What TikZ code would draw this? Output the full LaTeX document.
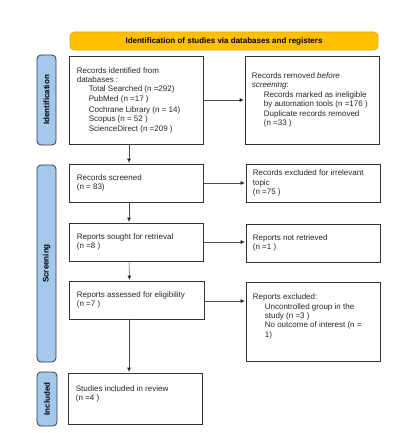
\documentclass[tikz,border=0pt]{standalone}
\usepackage{fontspec}
\setmainfont{Liberation Sans}
\usetikzlibrary{arrows.meta}
\definecolor{lblue}{HTML}{A4C8EC}
\definecolor{lblueb}{HTML}{2A3A50}
\definecolor{yel}{HTML}{FFC000}
\definecolor{yelb}{HTML}{E8A800}
\definecolor{txtc}{HTML}{262626}
\tikzset{
  box/.style={draw=black!80, line width=0.7pt, inner sep=0pt, fill=white},
  txt/.style={align=left, inner sep=0pt, text=txtc, font=\fontsize{8}{9.4}\selectfont},
  side/.style={draw=lblueb, fill=lblue, line width=0.8pt, rounded corners=4pt, inner sep=0pt},
  sidetxt/.style={rotate=90, font=\bfseries\fontsize{8}{9.4}\selectfont, text=black, inner sep=0pt},
  conn/.style={draw=black!70, line width=0.5pt, -{Triangle[length=4pt,width=3.5pt,fill=black]}, shorten >=1pt}
}
\newcommand{\ind}{\hspace*{12pt}}
\begin{document}
\begin{tikzpicture}[x=1pt,y=-1pt]
\useasboundingbox (0,0) rectangle (405,433);
\fill[white] (0,0) rectangle (405,433);
% banner
\node[draw=yelb, fill=yel, line width=0.6pt, rounded corners=4pt, minimum width=308pt, minimum height=18pt, inner sep=0pt, font=\bfseries\fontsize{8}{9.4}\selectfont, text=black] (banner) at (224,41) {Identification of studies via databases and registers};
% side labels
\node[side, minimum width=19pt, minimum height=90pt] (idlab) at (46.5,100) {};
\node[sidetxt] (idlabt) at (idlab.center) {Identification};
\node[side, minimum width=19pt, minimum height=197pt] (scrlab) at (46.5,263.5) {};
\node[sidetxt] (scrlabt) at (scrlab.center) {Screening};
\node[side, minimum width=20pt, minimum height=54pt] (inclab) at (47,399) {};
\node[sidetxt] (inclabt) at (inclab.center) {Included};
% boxes
\node[box, minimum width=134pt, minimum height=88pt] (id) at (136,100) {};
\node[txt, anchor=west] (idt) at ([xshift=8pt]id.west) {Records identified from\\databases :\\\ind Total Searched (n =292)\\\ind PubMed (n =17 )\\[1.5pt]\ind Cochrane Library (n = 14)\\\ind Scopus (n = 52 )\\\ind ScienceDirect (n =209 )};
\node[box, minimum width=134pt, minimum height=88pt] (rem) at (312,100) {};
\node[txt, anchor=west] (remt) at ([xshift=7pt]rem.west) {Records removed \textit{before}\\\textit{screening}:\\\ind Records marked as ineligible\\\ind by automation tools (n =176 )\\\ind Duplicate records removed\\\ind (n =33 )};
\node[box, minimum width=134pt, minimum height=38pt] (scr) at (136,183) {};
\node[txt, anchor=west] (scrt) at ([xshift=8pt]scr.west) {Records screened\\(n = 83)};
\node[box, minimum width=134pt, minimum height=38pt] (exc) at (313,183) {};
\node[txt, anchor=west] (exct) at ([xshift=7pt]exc.west) {Records excluded for irrelevant\\topic\\(n =75 )};
\node[box, minimum width=134pt, minimum height=38pt] (sou) at (136,242) {};
\node[txt, anchor=west] (sout) at ([xshift=8pt]sou.west) {Reports sought for retrieval\\(n =8 )};
\node[box, minimum width=134pt, minimum height=38pt] (nre) at (313,243) {};
\node[txt, anchor=west] (nret) at ([xshift=7pt]nre.west) {Reports not retrieved\\(n =1 )};
\node[box, minimum width=135pt, minimum height=38pt] (ass) at (136.5,300) {};
\node[txt, anchor=west] (asst) at ([xshift=8pt]ass.west) {Reports assessed for eligibility\\(n =7 )};
\node[box, minimum width=134pt, minimum height=79pt] (rex) at (313,321.5) {};
\node[txt, anchor=north west] (rext) at ([xshift=7pt,yshift=-12pt]rex.north west) {Reports excluded:\\\ind Uncontrolled group in the\\\ind study (n =3 )\\\ind No outcome of interest (n =\\\ind 1)};
\node[box, minimum width=134pt, minimum height=51pt] (inc) at (135,398.5) {};
\node[txt, anchor=north west] (inct) at ([xshift=8pt,yshift=-12.5pt]inc.north west) {Studies included in review\\(n =4 )};
% connectors
\coordinate (assE) at ([yshift=-1pt]ass.east);
\coordinate (assS) at ([xshift=-7.5pt]ass.south);
\draw[conn] (id.east) -- (rem.west);
\draw[conn] (scr.east) -- (exc.west);
\draw[conn] (sou.east) -- (nre.west |- sou.east);
\draw[conn] (assE) -- (rex.west |- assE);
\draw[conn] ([xshift=-7pt]id.south) -- ([xshift=-7pt]scr.north);
\draw[conn] ([xshift=-7pt]scr.south) -- ([xshift=-7pt]sou.north);
\draw[conn] ([xshift=-7pt]sou.south) -- ([xshift=-7pt]ass.north);
\draw[conn] (assS) -- (assS |- inc.north);
\end{tikzpicture}
\end{document}
